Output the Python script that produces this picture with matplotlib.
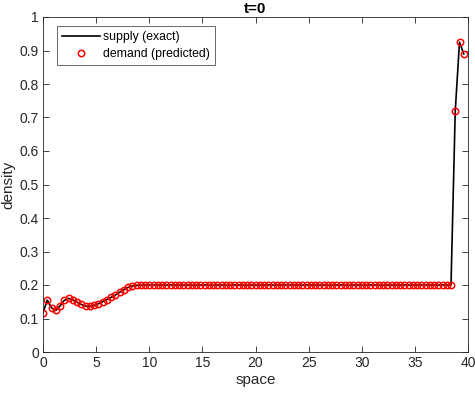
import matplotlib
matplotlib.use("Agg")
import matplotlib.pyplot as plt
import numpy as np

# grid of 100 spatial points, step 0.4
space = np.arange(100) * 0.4

head = [0.117, 0.155, 0.132, 0.124, 0.137, 0.154, 0.160, 0.156, 0.149, 0.142,
        0.137, 0.136, 0.139, 0.144, 0.150, 0.156, 0.163, 0.170, 0.178, 0.186,
        0.193, 0.197, 0.199]
plateau = [0.2] * 74
tail = [0.72, 0.925, 0.89]
supply = head + plateau + tail
demand = list(supply)

AX_COLOR = "#262626"

plt.rcParams["font.family"] = ["Liberation Sans", "DejaVu Sans"]

fig = plt.figure(figsize=(4.75, 3.94), dpi=100)
ax = fig.add_axes([43 / 475, 42 / 394, 425 / 475, 335 / 394])

ax.plot(space, supply, color="black", linewidth=1.2, label="supply (exact)")
ax.plot(space, demand, linestyle="none", marker="o", markersize=4.6,
        markerfacecolor="none", markeredgecolor="red", markeredgewidth=1.1,
        label="demand (predicted)")

ax.set_xlim(0, 40)
ax.set_ylim(0, 1)
ax.set_xticks(np.arange(0, 41, 5))
ax.set_yticks(np.arange(0, 1.01, 0.1))
ax.set_yticklabels(["0", "0.1", "0.2", "0.3", "0.4", "0.5", "0.6", "0.7", "0.8", "0.9", "1"])
ax.tick_params(direction="in", top=True, right=True, length=4, width=0.6,
               colors=AX_COLOR, labelsize=10, pad=3)
for s in ax.spines.values():
    s.set_color(AX_COLOR)
    s.set_linewidth(0.6)

ax.set_xlabel("space", fontsize=11, color=AX_COLOR, labelpad=2)
ax.set_ylabel("density", fontsize=11, color=AX_COLOR, labelpad=3)
ax.set_title("t=0", fontsize=11, fontweight="bold", color="black", pad=3)

leg = ax.legend(loc="upper left", bbox_to_anchor=(14 / 425, 0.973), fontsize=8.8,
                frameon=True, fancybox=False, edgecolor=AX_COLOR,
                handlelength=3.1, borderpad=0.4, labelspacing=0.45,
                handletextpad=0.25, borderaxespad=0)
leg.get_frame().set_linewidth(0.6)

fig.savefig("out.png", dpi=100)
